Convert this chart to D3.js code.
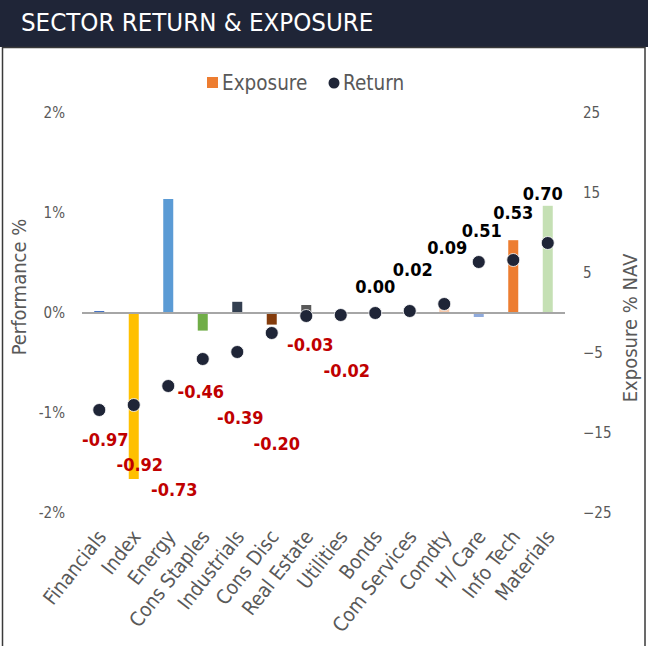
<!DOCTYPE html>
<html>
<head>
<meta charset="utf-8">
<script src="https://cdn.jsdelivr.net/npm/d3@7/dist/d3.min.js"></script>
<style>
  html, body { margin: 0; padding: 0; background: #fff; }
  svg { display: block; }
  text { font-family: "DejaVu Sans Condensed", "DejaVu Sans", sans-serif; }
</style>
</head>
<body>
<svg id="chart" width="648" height="646"></svg>
<script>
// ---------------- data ----------------
const categories = ["Financials", "Index", "Energy", "Cons Staples", "Industrials", "Cons Disc",
  "Real Estate", "Utilities", "Bonds", "Com Services", "Comdty", "H/ Care", "Info Tech", "Materials"];
const exposure = [0.25, -20.75, 14.25, -2.2, 1.4, -1.45, 1.0, -0.8, 0, 0, 0.6, -0.5, 9.1, 13.4];
const returns = [-0.97, -0.92, -0.73, -0.46, -0.39, -0.20, -0.03, -0.02, 0.00, 0.02, 0.09, 0.51, 0.53, 0.70];
const leftTicks = [2, 1, 0, -1, -2];
const rightTicks = [25, 15, 5, -5, -15, -25];

// ---------------- styles / layout ----------------
const barColors = ["#4472c4", "#ffc000", "#5b9bd5", "#70ad47", "#333f50", "#843c0c", "#595959",
  "#bf9000", "#a5a5a5", "#264478", "#f8cbad", "#8faadc", "#ed7d31", "#c5e0b4"];
// label offsets relative to each dot (staggered as in the original)
const labelDx = [6, 6, 6, -2, 3, 5, 4, 6, 0, 3, 3, 3, 0, -5];
const labelDy = [30, 60, 104, 33, 66, 111, 29, 56, -26, -41, -56, -31, -47, -49];

const W = 648, H = 646;
const plot = { left: 82, right: 565, top: 113, bottom: 513 };
const navy = "#1f2537", gray = "#595959";
const FONT = '"DejaVu Sans Condensed", "DejaVu Sans", sans-serif';

const svg = d3.select("#chart");

// header bar
svg.append("rect").attr("x", 0).attr("y", 0).attr("width", W).attr("height", 47).attr("fill", navy);
svg.append("text").attr("x", 21).attr("y", 31).attr("fill", "#ffffff")
  .attr("font-size", 25.6).text("SECTOR RETURN & EXPOSURE");
// panel
svg.append("rect").attr("x", 2.5).attr("y", 47.5).attr("width", 642.5).attr("height", 605)
  .attr("fill", "#fff").attr("stroke", "#3a3a3a").attr("stroke-width", 1.5);

// scales
const x = d3.scaleBand().domain(categories).range([plot.left, plot.right]).paddingInner(0).paddingOuter(0);
const yL = d3.scaleLinear().domain([-2, 2]).range([plot.bottom, plot.top]);
const yR = d3.scaleLinear().domain([-25, 25]).range([plot.bottom, plot.top]);

// left axis
const axL = d3.axisLeft(yL).tickValues(leftTicks).tickSize(0).tickPadding(0).tickFormat(d => d + "%");
const gL = svg.append("g").attr("transform", `translate(${plot.left - 17},0)`).call(axL);
gL.select(".domain").remove();
gL.selectAll("text").attr("fill", gray).attr("font-size", 15).attr("font-family", FONT);

// right axis
const axR = d3.axisRight(yR).tickValues(rightTicks).tickSize(0).tickPadding(0);
const gR = svg.append("g").attr("transform", `translate(${plot.right + 18},0)`).call(axR);
gR.select(".domain").remove();
gR.selectAll("text").attr("fill", gray).attr("font-size", 15).attr("font-family", FONT);

// axis titles
svg.append("text").attr("transform", `translate(26,287) rotate(-90)`).attr("text-anchor", "middle")
  .attr("fill", gray).attr("font-size", 20).text("Performance %");
svg.append("text").attr("transform", `translate(637,328) rotate(-90)`).attr("text-anchor", "middle")
  .attr("fill", gray).attr("font-size", 20).text("Exposure % NAV");

// bars
const bw = 10;
svg.append("g").selectAll("rect").data(categories).join("rect")
  .attr("x", d => x(d) + x.bandwidth() / 2 - bw / 2)
  .attr("width", bw)
  .attr("y", (d, i) => Math.min(yR(exposure[i]), yR(0)))
  .attr("height", (d, i) => Math.abs(yR(exposure[i]) - yR(0)))
  .attr("fill", (d, i) => barColors[i]);

// zero line
svg.append("line").attr("x1", plot.left).attr("x2", plot.right)
  .attr("y1", yL(0)).attr("y2", yL(0)).attr("stroke", "#a6a6a6").attr("stroke-width", 2);

// dots
svg.append("g").selectAll("circle").data(categories).join("circle")
  .attr("cx", d => x(d) + x.bandwidth() / 2)
  .attr("cy", (d, i) => yL(returns[i]))
  .attr("r", 6.5).attr("fill", navy).attr("stroke", "#ffffff").attr("stroke-width", 0.8);

// data labels
svg.append("g").selectAll("text").data(categories).join("text")
  .attr("x", (d, i) => x(d) + x.bandwidth() / 2 + labelDx[i])
  .attr("y", (d, i) => yL(returns[i]) + labelDy[i])
  .attr("dy", "0.36em")
  .attr("text-anchor", "middle")
  .attr("font-size", 18).attr("font-weight", "bold")
  .attr("fill", (d, i) => returns[i] < 0 ? "#c00000" : "#000000")
  .text((d, i) => returns[i].toFixed(2));

// x-axis labels
svg.append("g").selectAll("text").data(categories).join("text")
  .attr("transform", d => `translate(${x(d) + x.bandwidth() / 2 + 8},537) rotate(-52)`)
  .attr("text-anchor", "end")
  .attr("fill", gray).attr("font-size", 20)
  .text(d => d);

// legend
const lg = svg.append("g");
lg.append("rect").attr("x", 207).attr("y", 77).attr("width", 11).attr("height", 11).attr("fill", "#ed7d31");
lg.append("text").attr("x", 222).attr("y", 89.5).attr("fill", gray).attr("font-size", 20.5).text("Exposure");
lg.append("circle").attr("cx", 334).attr("cy", 83).attr("r", 5.5).attr("fill", navy);
lg.append("text").attr("x", 343).attr("y", 89.5).attr("fill", gray).attr("font-size", 20.5).text("Return");
</script>
</body>
</html>
